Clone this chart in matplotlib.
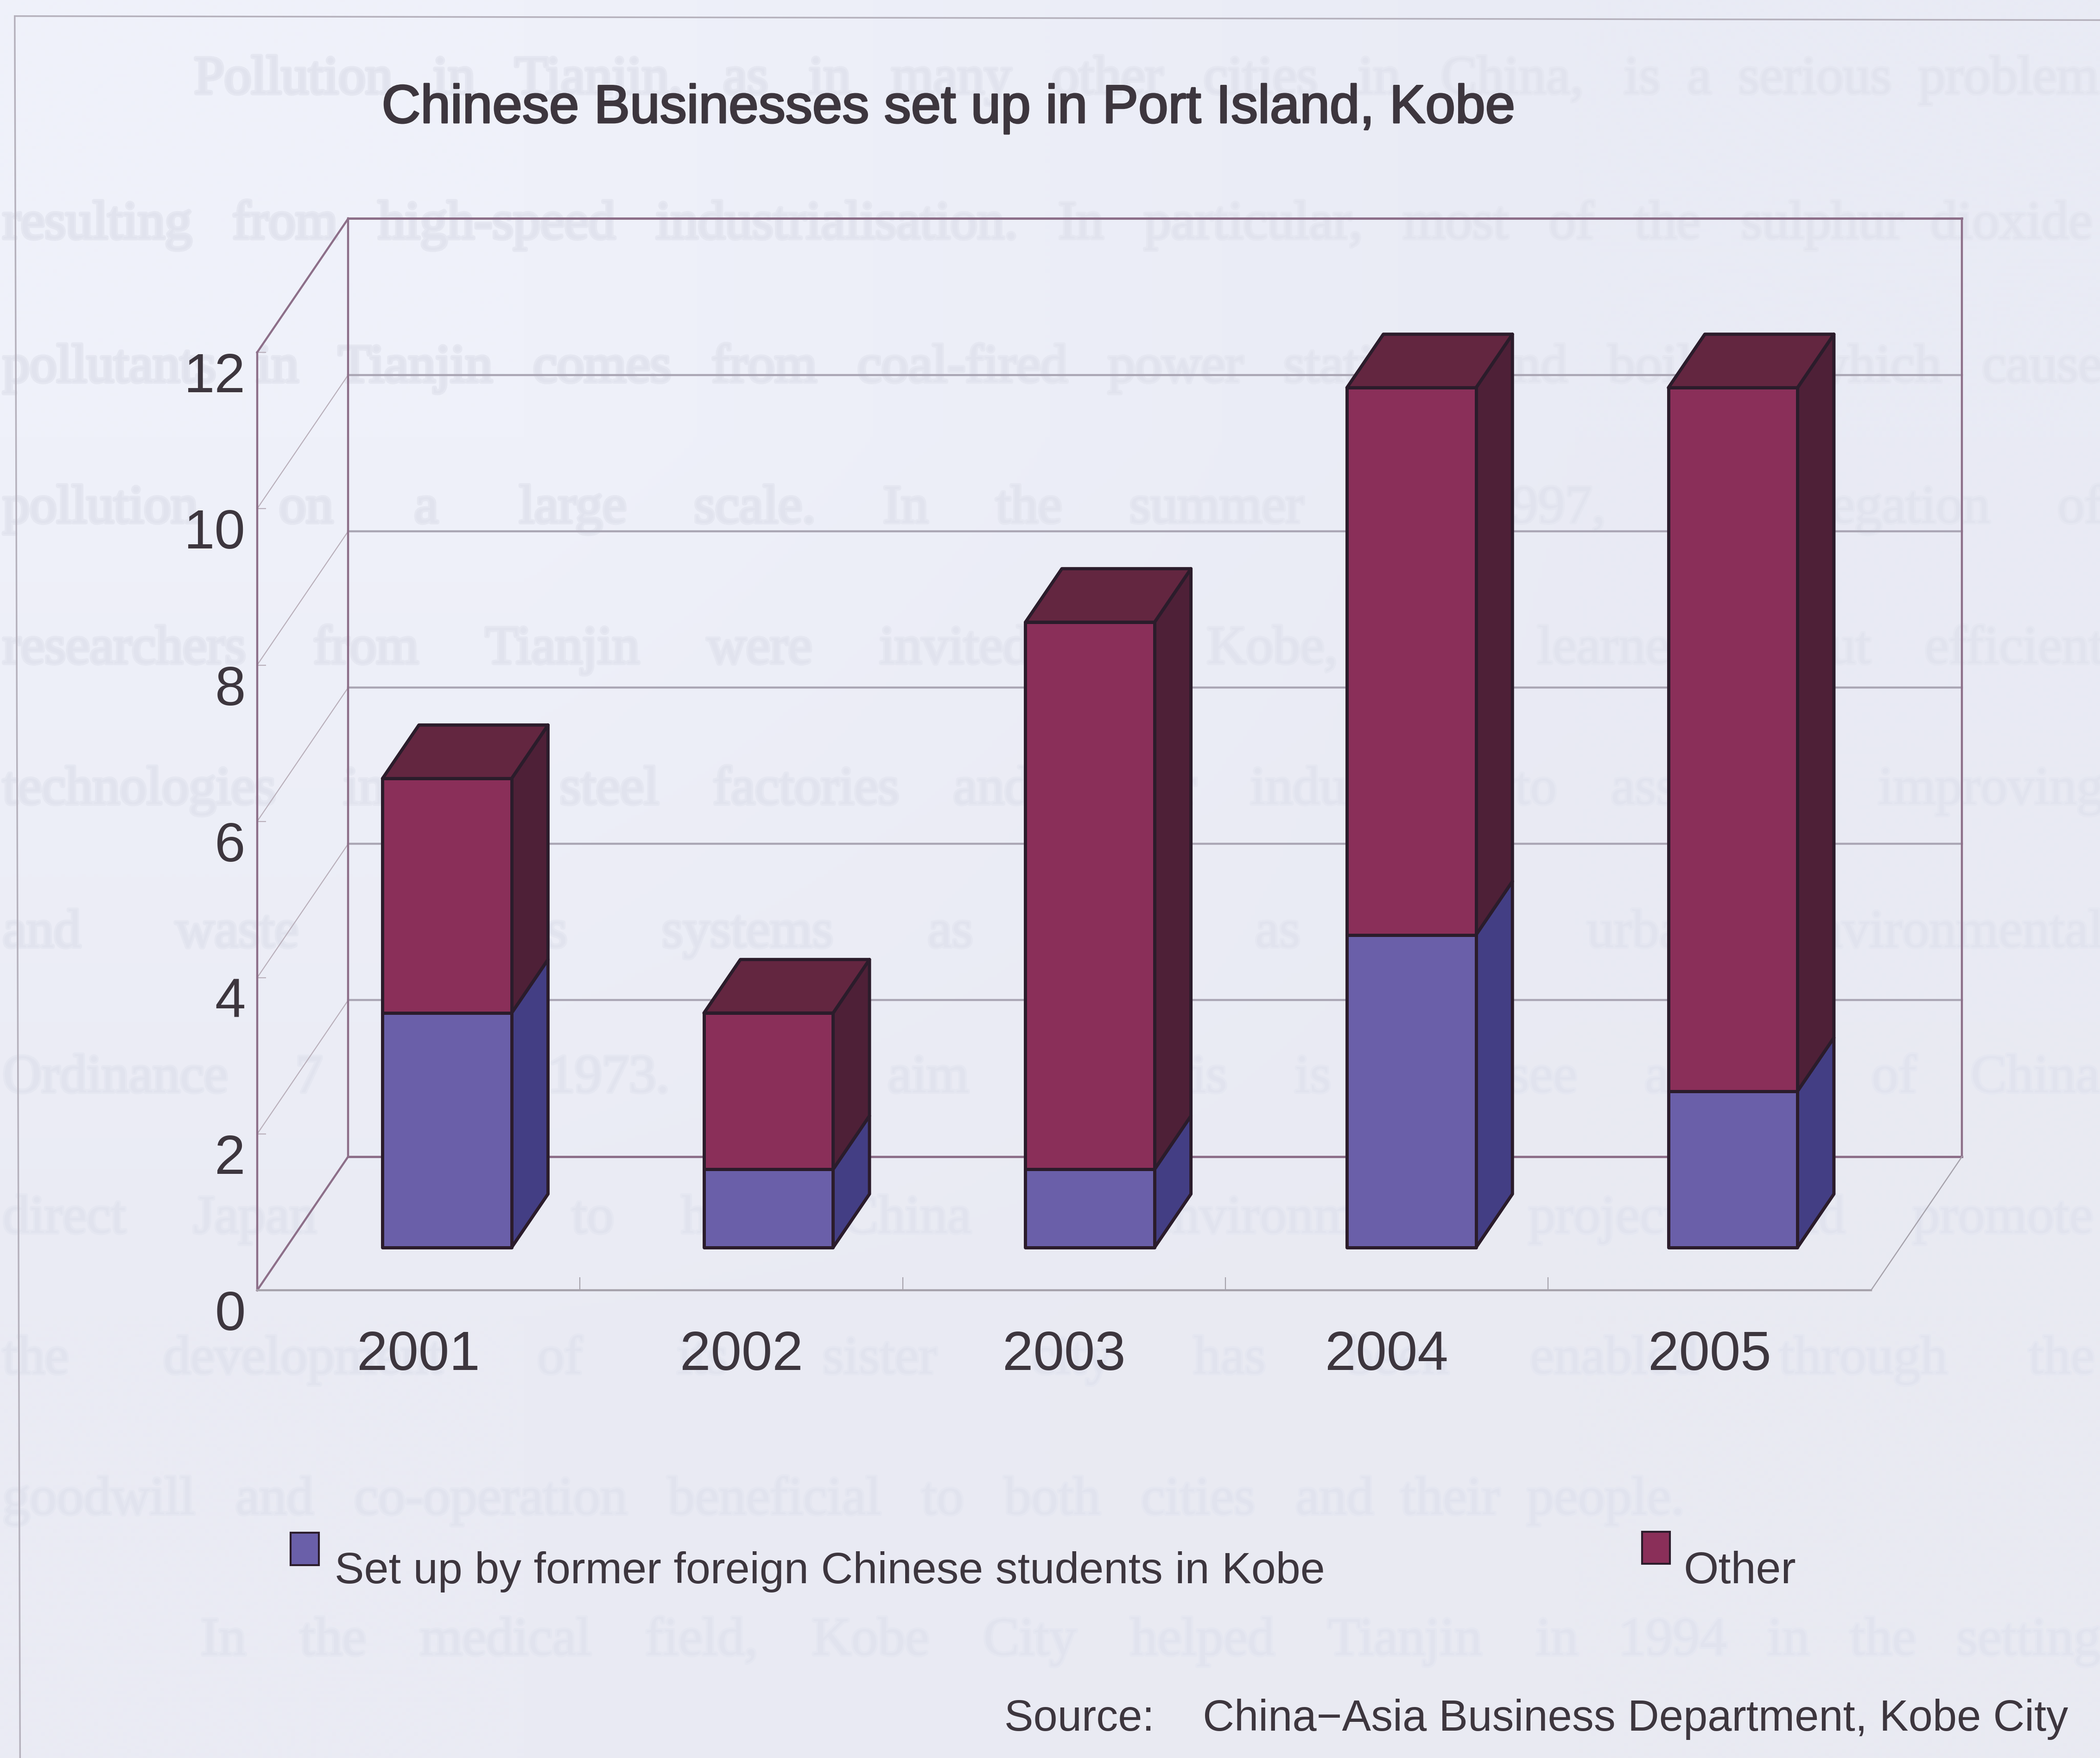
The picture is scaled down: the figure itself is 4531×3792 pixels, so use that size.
import numpy as np
import matplotlib
matplotlib.use('Agg')
import matplotlib.pyplot as plt
from matplotlib.colors import to_rgb
from matplotlib.patches import Rectangle
import matplotlib.patheffects as pe

# ======================
# DATA
# ======================
years = ['2001', '2002', '2003', '2004', '2005']
former_students = [3, 1, 1, 4, 2]
other = [3, 2, 7, 7, 9]
y_ticks = [0, 2, 4, 6, 8, 10, 12]

title = 'Chinese Businesses set up in Port Island, Kobe'
legend_students = 'Set up by former foreign Chinese students in Kobe'
legend_other = 'Other'
source = 'Source:    China\u2212Asia Business Department, Kobe City'

# faint lines of the facing page showing through the paper
page_lines = [
    'Pollution in Tianjin, as in many other cities in China, is a serious problem',
    'resulting from high-speed industrialisation. In particular, most of the sulphur dioxide',
    'pollutants in Tianjin comes from coal-fired power stations and boilers, which cause',
    'pollution on a large scale. In the summer of 1997, a delegation of',
    'researchers from Tianjin were invited to Kobe, and learned about efficient',
    'technologies in the steel factories and other industries to assist in improving',
    'and waste services systems as well as other urban environmental',
    'Ordinance 7 July 1973. The aim of this is to see a city of China',
    'direct Japan funds to help China in environmental projects and promote',
    'the development of its sister city has been enabled through the',
    'goodwill and co-operation beneficial to both cities and their people.',
    'In the medical field, Kobe City helped Tianjin in 1994 in the setting',
]
page_line_x = [145, 2, 2, 2, 2, 2, 2, 2, 2, 2, 2, 150]
page_line_y = [60, 168, 275, 380, 485, 590, 697, 805, 910, 1015, 1120, 1225]
page_line_end = [1560, 1560, 1560, 1560, 1560, 1560, 1560, 1560, 1560, 1560, 1250, 1560]

# ======================
# STYLE
# ======================
W, H = 1568, 1312  # layout units used for placing things on the page
INK = '#3d363e'
WALL = '#8d6f89'
GRID = '#aaa6b4'
FLOOR = '#a6a2ab'
EDGE = '#2b1c2b'
PURPLE = ('#6a5fa9', '#433e84')
RED = ('#8a2f59', '#4e2037', '#632640')
FONT = ['Liberation Sans']

fig = plt.figure(figsize=(45.31, 37.92), dpi=100)
renderer = fig.canvas.get_renderer()

page = fig.add_axes([0, 0, 1, 1], zorder=0)
page.set_xlim(0, W)
page.set_ylim(H, 0)
page.axis('off')

corners = np.array([[to_rgb('#eff1fa'), to_rgb('#e9ebf5')],
                    [to_rgb('#eaebf4'), to_rgb('#e9eaf2')]])
page.imshow(corners, extent=[0, W, H, 0], aspect='auto', interpolation='bilinear', zorder=0)


def spread_words(t, width):
    # justify a line by widening the gaps between its words, one gap at a time
    words = t.get_text().split(' ')
    gaps = [' '] * (len(words) - 1)
    limit = width * fig.bbox.width / W
    i = 0
    while t.get_window_extent(renderer).width < limit:
        gaps[i % len(gaps)] += ' '
        i += 1
        t.set_text(''.join(w + g for w, g in zip(words, gaps + [''])))


for txt, px, py, end in zip(page_lines, page_line_x, page_line_y, page_line_end):
    t = page.text(px, py, txt, family='Liberation Serif', fontsize=84, color='#e1e3ee',
                  va='center', ha='left', zorder=1,
                  path_effects=[pe.withStroke(linewidth=6, foreground='#e5e7f1')])
    spread_words(t, end - px)

# outer frame
page.plot([11, 1568], [12, 15], color='#b5b1bc', lw=2.5, zorder=2)
page.plot([11, 15], [12, 1312], color='#b5b1bc', lw=2.5, zorder=2)


def fit_text(t, width):
    # scale the font so the string takes the wanted page width
    ext = t.get_window_extent(renderer)
    t.set_fontsize(t.get_fontsize() * width * (fig.bbox.width / W) / ext.width)


t = page.text(285, 81, title, family=FONT, fontsize=90, color=INK, va='center', zorder=3,
              path_effects=[pe.withStroke(linewidth=2.5, foreground=INK)])
fit_text(t, 846)
t = page.text(250, 1173, legend_students, family=FONT, fontsize=80, color=INK, va='center', zorder=3)
fit_text(t, 740)
t = page.text(1257, 1173, legend_other, family=FONT, fontsize=80, color=INK, va='center', zorder=3)
fit_text(t, 84)
t = page.text(750, 1283, source, family=FONT, fontsize=80, color=INK, va='center', zorder=3)
fit_text(t, 794)

page.add_patch(Rectangle((217, 1144), 21, 24, facecolor=PURPLE[0], edgecolor=EDGE, lw=3, zorder=3))
page.add_patch(Rectangle((1226, 1143), 21, 24, facecolor=RED[0], edgecolor=EDGE, lw=3, zorder=3))

# ======================
# CHART
# ======================
# the axes is the front plane of the box, depth goes up and to the right
ax = fig.add_axes([192 / W, 1 - 963 / H, (1397 - 192) / W, 700 / H], zorder=1)
ax.patch.set_alpha(0)
ax.set_xlim(0, 5)
ax.set_ylim(0, 12)
for s in ax.spines.values():
    s.set_visible(False)

DX = 68 / 241.0
DY = 100 / 58.4


def proj(x, y, z):
    return x + z * DX, y + z * DY


def line(p0, p1, **kw):
    ax.plot([p0[0], p1[0]], [p0[1], p1[1]], clip_on=False, solid_capstyle='projecting', **kw)


# back wall gridlines and the matching lines on the side wall
for v in y_ticks[1:-1]:
    line(proj(0, v, 1), proj(5, v, 1), color=GRID, lw=3.2, zorder=1)
    line(proj(0, v, 0), proj(0, v, 1), color='#b9afba', lw=1.6, zorder=1)

# box edges
line(proj(0, 12, 1), proj(5, 12, 1), color=WALL, lw=3.6, zorder=2)
line(proj(0, 0, 1), proj(5, 0, 1), color=WALL, lw=3.6, zorder=2)
line(proj(0, 0, 1), proj(0, 12, 1), color=WALL, lw=3.2, zorder=2)
line(proj(5, 0, 1), proj(5, 12, 1), color=WALL, lw=3.2, zorder=2)
line(proj(0, 0, 0), proj(0, 12, 0), color=WALL, lw=3.2, zorder=2)
line(proj(0, 12, 0), proj(0, 12, 1), color=WALL, lw=3.2, zorder=2)
line(proj(0, 0, 0), proj(0, 0, 1), color=WALL, lw=3.2, zorder=2)
line(proj(0, 0, 0), proj(5, 0, 0), color=FLOOR, lw=3.2, zorder=2)
line(proj(5, 0, 0), proj(5, 0, 1), color=FLOOR, lw=1.8, zorder=2)

BAR_W = 0.40
Z0, Z1 = 0.32, 0.72


def face(points, color):
    xs, ys = zip(*points)
    ax.fill(xs, ys, facecolor=color, edgecolor=EDGE, lw=5, joinstyle='round',
            clip_on=False, zorder=3)


xpos = np.arange(len(years)) + 0.5
bar_xpos = xpos * 0.996  # bars sit a touch tighter than the floor divisions
for xc, low, high in zip(bar_xpos, former_students, other):
    x0, x1 = xc - BAR_W / 2, xc + BAR_W / 2
    for y0, y1, cols in [(0, low, PURPLE), (low, low + high, RED)]:
        face([proj(x1, y0, Z0), proj(x1, y0, Z1), proj(x1, y1, Z1), proj(x1, y1, Z0)], cols[1])
        face([proj(x0, y0, Z0), proj(x1, y0, Z0), proj(x1, y1, Z0), proj(x0, y1, Z0)], cols[0])
    top = low + high
    face([proj(x0, top, Z0), proj(x1, top, Z0), proj(x1, top, Z1), proj(x0, top, Z1)], RED[2])

ax.set_yticks(y_ticks)
ax.set_yticklabels(y_ticks, family=FONT, fontsize=86, color=INK, va='top')
ax.set_xticks(xpos)
ax.set_xticklabels(years, family=FONT, fontsize=86, color=INK)
ax.set_xticks(np.arange(1, 5), minor=True)
ax.tick_params(axis='y', direction='in', length=14, width=1.6, color='#b9afba', pad=18)
ax.tick_params(axis='x', which='major', length=0, pad=62)
ax.tick_params(axis='x', which='minor', direction='in', length=20, width=1.6, color=FLOOR)

fig.savefig('out.png', dpi=100)
